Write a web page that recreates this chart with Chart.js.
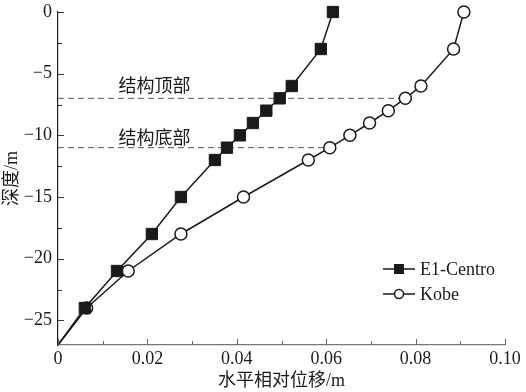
<!DOCTYPE html>
<html>
<head>
<meta charset="utf-8">
<script src="https://cdn.jsdelivr.net/npm/chart.js@4/dist/chart.umd.min.js"></script>
<style>
  html, body { margin: 0; padding: 0; background: #fff; }
  #wrap { width: 526px; height: 392px; position: relative; }
</style>
</head>
<body>
<div id="wrap"><canvas id="chart"></canvas></div>
<script>
(() => {
  "use strict";

  // ---------- data ----------
  const DEPTHS = [0, -3, -6, -7, -8, -9, -10, -11, -12, -15, -18, -21, -24, -27];
  const CENTRO = [0.0615, 0.0588, 0.0523, 0.0496, 0.0466, 0.0436, 0.0407, 0.0378, 0.0351, 0.0275, 0.0210, 0.0132, 0.0060, 0];
  const KOBE = [0.0908, 0.0885, 0.0812, 0.0777, 0.0739, 0.0697, 0.0653, 0.0608, 0.0560, 0.0415, 0.0275, 0.0157, 0.0064, 0];

  const LEVEL_DEPTHS = [-7, -11];
  const LEVEL_ENDS = [0.0777, 0.0608];
  const LEVEL_LABELS = ["结构顶部", "结构底部"];
  const LABEL_X = [0.0216, 0.0216];
  const LABEL_Y = [-5.9, -10.15];

  const X_TICKS = [0, 0.02, 0.04, 0.06, 0.08, 0.10];
  const X_MINOR = [0.01, 0.03, 0.05, 0.07, 0.09];
  const Y_TICKS = [0, -5, -10, -15, -20, -25];
  const Y_MINOR = [-2.5, -7.5, -12.5, -17.5, -22.5];

  const SERIES_NAMES = ["E1-Centro", "Kobe"];

  const FONT = '"Liberation Serif", "Times New Roman", "Noto Sans CJK SC", serif';
  const INK = "#1a1a1a";

  const pts = (xs) => xs.map((x, i) => ({ x, y: DEPTHS[i] }));
  const noLast = (r) => (ctx) => (ctx.dataIndex === DEPTHS.length - 1 ? 0 : r);
  const minus = (v) => (v < 0 ? "\u2212" + Math.abs(v) : String(v));

  const levelSets = LEVEL_DEPTHS.map((d, i) => ({
    label: "level" + i,
    data: [{ x: 0, y: d }, { x: LEVEL_ENDS[i], y: d }],
    borderColor: "#555",
    borderWidth: 1,
    borderDash: [6, 4],
    pointRadius: 0,
    showLine: true,
  }));

  // ---------- inward ticks, level labels, legend ----------
  const decor = {
    id: "decor",
    afterDraw(chart) {
      const { ctx, scales: { x, y } } = chart;
      ctx.save();
      ctx.lineWidth = 1;
      ctx.strokeStyle = "#333";
      const yTick = (v, len) => {
        const py = Math.round(y.getPixelForValue(v)) + 0.5;
        ctx.beginPath();
        ctx.moveTo(x.left, py);
        ctx.lineTo(x.left + len, py);
        ctx.stroke();
      };
      const xTick = (v, len) => {
        const px = Math.round(x.getPixelForValue(v)) + 0.5;
        ctx.beginPath();
        ctx.moveTo(px, y.bottom);
        ctx.lineTo(px, y.bottom - len);
        ctx.stroke();
      };
      Y_TICKS.forEach((v) => yTick(v, 6));
      Y_MINOR.forEach((v) => yTick(v, 4));
      ctx.strokeStyle = "#666";
      X_TICKS.forEach((v) => xTick(v, 6));
      X_MINOR.forEach((v) => xTick(v, 4));

      // level labels
      ctx.fillStyle = INK;
      ctx.font = '18px "Noto Sans CJK SC", sans-serif';
      ctx.textAlign = "center";
      ctx.textBaseline = "middle";
      LEVEL_LABELS.forEach((t, i) => {
        ctx.fillText(t, x.getPixelForValue(LABEL_X[i]), y.getPixelForValue(LABEL_Y[i]));
      });

      // legend
      const lx = 383, lw = 32, rows = [269, 294];
      ctx.font = "18px " + FONT;
      ctx.textAlign = "left";
      rows.forEach((ly, i) => {
        ctx.strokeStyle = INK;
        ctx.lineWidth = 1.5;
        ctx.beginPath();
        ctx.moveTo(lx, ly);
        ctx.lineTo(lx + lw, ly);
        ctx.stroke();
        const cx = lx + lw / 2;
        if (i === 0) {
          ctx.fillStyle = INK;
          ctx.fillRect(cx - 5, ly - 5, 10, 10);
        } else {
          ctx.beginPath();
          ctx.arc(cx, ly, 4.5, 0, Math.PI * 2);
          ctx.fillStyle = "#fff";
          ctx.fill();
          ctx.stroke();
        }
        ctx.fillStyle = INK;
        ctx.fillText(SERIES_NAMES[i], lx + lw + 5, ly + 1);
      });
      ctx.restore();
    },
  };

  new Chart(document.getElementById("chart"), {
    type: "scatter",
    data: {
      datasets: [
        {
          label: SERIES_NAMES[0],
          data: pts(CENTRO),
          showLine: true,
          clip: false,
          borderColor: INK,
          borderWidth: 1.5,
          backgroundColor: INK,
          pointStyle: "rect",
          pointRadius: noLast(8),
          pointBorderWidth: 1,
          pointBorderColor: INK,
          pointBackgroundColor: INK,
        },
        {
          label: SERIES_NAMES[1],
          data: pts(KOBE),
          showLine: true,
          clip: false,
          borderColor: INK,
          borderWidth: 1.5,
          pointStyle: "circle",
          pointRadius: noLast(6),
          pointBorderWidth: 1.5,
          pointBorderColor: INK,
          pointBackgroundColor: "#fff",
        },
        ...levelSets,
      ],
    },
    options: {
      responsive: true,
      maintainAspectRatio: false,
      animation: false,
      layout: { padding: { left: 0, top: 12, right: 21, bottom: 0 } },
      plugins: { legend: { display: false }, tooltip: { enabled: false } },
      scales: {
        x: {
          type: "linear",
          min: 0,
          max: 0.1,
          afterFit: (s) => { s.height = 47; },
          afterBuildTicks: (s) => { s.ticks = X_TICKS.map((value) => ({ value })); },
          grid: { display: false, drawTicks: false },
          border: { display: true, color: "#777", width: 1.2 },
          ticks: {
            color: INK,
            padding: 3,
            maxRotation: 0,
            font: { family: FONT, size: 18 },
            callback: (v) => (v === 0 ? "0" : v.toFixed(2)),
          },
          title: {
            display: true,
            text: "水平相对位移/m",
            color: INK,
            font: { family: FONT, size: 18 },
            padding: { top: 0, bottom: 0 },
          },
        },
        y: {
          type: "linear",
          min: -27,
          max: 0,
          afterFit: (s) => { s.width = 58; },
          afterBuildTicks: (s) => { s.ticks = Y_TICKS.map((value) => ({ value })); },
          grid: { display: false, drawTicks: true, tickLength: 5 },
          border: { display: true, color: "#222", width: 1.2 },
          ticks: {
            color: INK,
            padding: 1,
            font: { family: FONT, size: 18 },
            callback: (v) => minus(v),
          },
          title: {
            display: true,
            text: "深度/m",
            color: INK,
            font: { family: FONT, size: 18 },
            padding: { top: 1, bottom: 0 },
          },
        },
      },
    },
    plugins: [decor],
  });
})();
</script>
</body>
</html>
